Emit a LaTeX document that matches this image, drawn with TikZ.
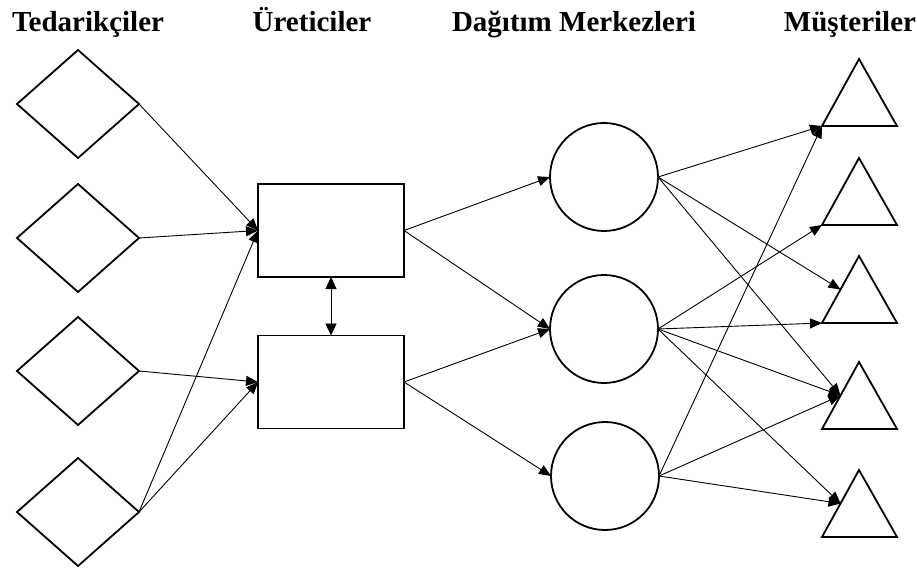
\documentclass[tikz,border=0pt]{standalone}
\usepackage{fontspec}
\setmainfont{Liberation Serif}
\usetikzlibrary{arrows.meta,shapes.geometric}
\begin{document}
\begin{tikzpicture}[x=1pt,y=-1pt,
  shapeline/.style={draw, line width=1.8pt, inner sep=0pt, outer sep=0pt},
  dia/.style={shapeline, diamond, minimum width=122pt, minimum height=108pt},
  box/.style={shapeline, rectangle, minimum width=146pt, minimum height=93pt},
  circ/.style={shapeline, circle, minimum size=108pt},
  tri/.style={line width=1.8pt, line join=miter},
  conn/.style={line width=0.9pt, -{Triangle[length=12pt,width=10pt]}},
  dbl/.style={line width=0.9pt, {Triangle[length=12pt,width=11pt]}-{Triangle[length=12pt,width=11pt]}},
  title/.style={font=\fontsize{29}{32}\selectfont\bfseries, anchor=base, inner sep=0pt}]
\useasboundingbox (0,0) rectangle (917,569);
% titles
\node[title] (h1) at (88,32) {Tedarikçiler};
\node[title] (h2) at (312,32) {Üreticiler};
\node[title] (h3) at (574,32) {Dağıtım Merkezleri};
\node[title] (h4) at (850,32) {Müşteriler};
% suppliers
\node[dia] (d1) at (78,104) {};
\node[dia] (d2) at (78,238) {};
\node[dia] (d3) at (78,371) {};
\node[dia] (d4) at (78,512) {};
% producers
\node[box] (r1) at (331,230.5) {};
\node[box] (r2) at (331,382) {};
% distribution centres
\node[circ] (c1) at (604,177) {};
\node[circ] (c2) at (604,329) {};
\node[circ] (c3) at (605,476) {};
% customers (triangles)
\foreach \i/\b in {1/126,2/225,3/323,4/429,5/537}{
  \draw[tri] (822,\b) coordinate (t\i bl) -- (859,\b-67) coordinate (t\i top) -- (897,\b) coordinate (t\i br) -- cycle;
  \coordinate (t\i m) at (840.5,\b-33.5);
}
% connectors suppliers -> producers
\draw[conn] (d1.east) -- (r1.west);
\draw[conn] (d2.east) -- (r1.west);
\draw[conn] (d4.east) -- (r1.west);
\draw[conn] (d3.east) -- (r2.west);
\draw[conn] (d4.east) -- (r2.west);
\draw[dbl] (r1.south) -- (r2.north);
% producers -> centres
\draw[conn] (r1.east) -- (c1.west);
\draw[conn] (r1.east) -- (c2.west);
\draw[conn] (r2.east) -- (c2.west);
\draw[conn] (r2.east) -- (c3.west);
% centres -> customers
\draw[conn] (c1.east) -- (t1bl);
\draw[conn] (c1.east) -- (t3m);
\draw[conn] (c1.east) -- (t4m);
\draw[conn] (c2.east) -- (t2bl);
\draw[conn] (c2.east) -- (t3bl);
\draw[conn] (c2.east) -- (t4m);
\draw[conn] (c2.east) -- (t5m);
\draw[conn] (c3.east) -- (t1bl);
\draw[conn] (c3.east) -- (t4m);
\draw[conn] (c3.east) -- (t5m);
\end{tikzpicture}
\end{document}
